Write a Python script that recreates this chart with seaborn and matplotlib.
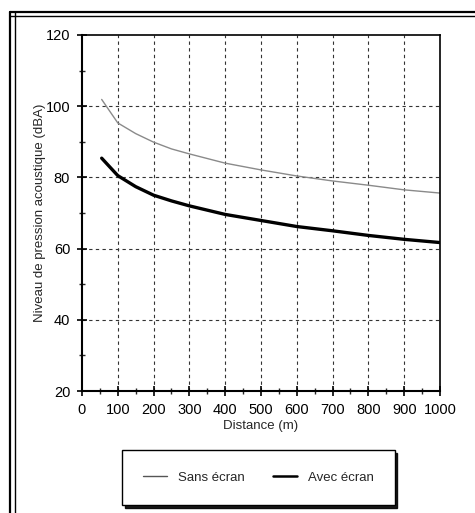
import numpy as np
import pandas as pd
import matplotlib
matplotlib.use('Agg')
import matplotlib.pyplot as plt
import seaborn as sns
from matplotlib.lines import Line2D
from matplotlib.ticker import MultipleLocator

# data
distance = [55, 100, 150, 200, 250, 300, 400, 500, 600, 700, 800, 900, 1000]
sans_ecran = [101.9, 95.3, 92.3, 89.9, 88.0, 86.6, 84.0, 82.1, 80.4, 79.0, 77.8, 76.5, 75.6]
avec_ecran = [85.4, 80.5, 77.4, 75.0, 73.4, 72.0, 69.6, 67.9, 66.2, 65.0, 63.7, 62.6, 61.7]
x_ticks = [0, 100, 200, 300, 400, 500, 600, 700, 800, 900, 1000]
y_ticks = [20, 40, 60, 80, 100, 120]

df = pd.DataFrame({'Distance': distance, 'Sans écran': sans_ecran, 'Avec écran': avec_ecran})

sns.set_style('white')
plt.rcParams['font.family'] = ['Liberation Sans', 'DejaVu Sans']

fig = plt.figure(figsize=(4.75, 5.13), dpi=100)
ax = fig.add_axes([0.1726, 0.2378, 0.7537, 0.694])

sns.lineplot(data=df, x='Distance', y='Sans écran', ax=ax, color='#8a8a8a', linewidth=1.0)
sns.lineplot(data=df, x='Distance', y='Avec écran', ax=ax, color='black', linewidth=2.4)

ax.set_xlim(0, 1000)
ax.set_ylim(20, 120)
ax.set_xticks(x_ticks)
ax.set_yticks(y_ticks)
ax.xaxis.set_minor_locator(MultipleLocator(50))
ax.yaxis.set_minor_locator(MultipleLocator(10))
ax.tick_params(axis='both', which='major', direction='inout', length=7, width=1.2,
               labelsize=10.5, colors='black', pad=5, left=True, bottom=True)
ax.tick_params(axis='both', which='minor', direction='inout', length=5, width=1.0,
               left=True, bottom=True)

for v in x_ticks[1:-1]:
    ax.axvline(v, color='#333333', linestyle=(0, (3, 3)), linewidth=0.8, zorder=0)
for v in y_ticks[1:-1]:
    ax.axhline(v, color='#333333', linestyle=(0, (3, 3)), linewidth=0.8, zorder=0)

for side in ['left', 'bottom']:
    ax.spines[side].set_linewidth(1.5)
    ax.spines[side].set_color('black')
for side in ['top', 'right']:
    ax.spines[side].set_linewidth(1.2)
    ax.spines[side].set_color('black')

ax.set_xlabel('Distance (m)', fontsize=9.5, labelpad=2)
ax.set_ylabel('Niveau de pression acoustique (dBA)', fontsize=9.5, labelpad=0)

handles = [Line2D([], [], color='#555555', linewidth=1.0),
           Line2D([], [], color='black', linewidth=1.8)]
leg = fig.legend(handles, ['Sans écran', 'Avec écran'], loc='center',
                 bbox_to_anchor=(0.544, 0.069), ncol=2, fontsize=9.5,
                 frameon=True, fancybox=False, shadow={'color': 'black', 'alpha': 0.9},
                 edgecolor='black', handlelength=1.8, borderpad=1.6, columnspacing=2.2,
                 handletextpad=0.8, borderaxespad=0)
leg.get_frame().set_linewidth(1.0)

# double frame around the figure
for x in [10, 15]:
    fig.add_artist(Line2D([x / 475, x / 475], [0, 1 - 12 / 513], transform=fig.transFigure,
                          color='black', linewidth=1.6 if x == 10 else 1.0))
for y in [12, 16]:
    fig.add_artist(Line2D([10 / 475, 1], [1 - y / 513, 1 - y / 513], transform=fig.transFigure,
                          color='black', linewidth=1.6 if y == 12 else 1.0))

fig.savefig('out.png', dpi=100)
plt.close()
